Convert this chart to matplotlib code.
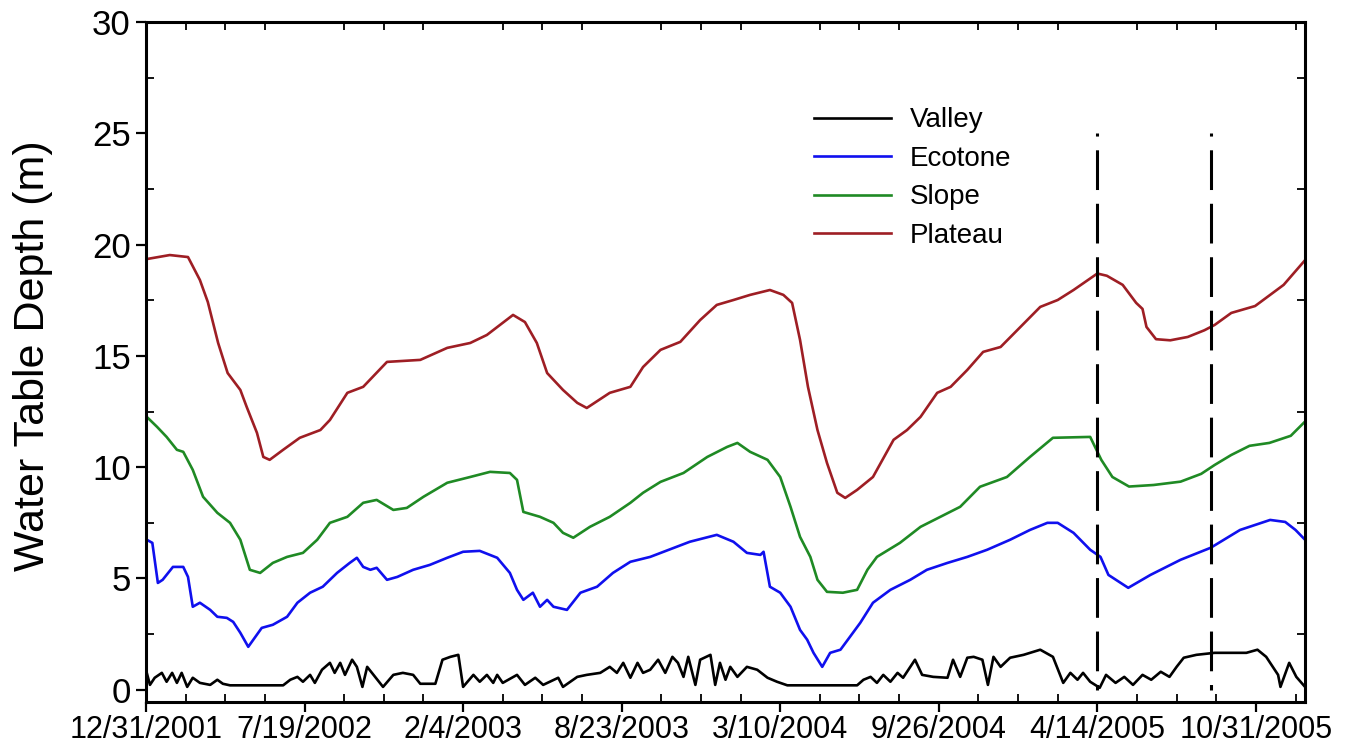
import datetime as dt
import numpy as np
import matplotlib
matplotlib.use("Agg")
import matplotlib.pyplot as plt
import matplotlib.dates as mdates
from matplotlib.ticker import FixedLocator, MultipleLocator

plt.rcParams['font.family'] = ['Liberation Sans', 'DejaVu Sans']

start = dt.date(2001, 12, 31)

# days since 12/31/2001 and water table depth (m)
plateau_day = [1, 30, 53, 68, 78, 91, 103, 119, 127, 140, 148, 156, 173, 194, 220, 232,
               254, 274, 304, 346, 380, 409, 430, 463, 478, 493, 506, 526, 544, 556, 585,
               611, 627, 649, 674, 699, 720, 741, 762, 787, 804, 815, 825, 835, 847, 859,
               872, 882, 897, 917, 943, 960, 977, 998, 1015, 1036, 1056, 1078, 1103, 1128,
               1150, 1170, 1200, 1212, 1232, 1249, 1257, 1262, 1274, 1292, 1314, 1335,
               1348, 1369, 1399, 1435, 1462]
plateau = [19.35, 19.53, 19.44, 18.41, 17.42, 15.58, 14.23, 13.47, 12.71, 11.54, 10.46,
           10.33, 10.78, 11.32, 11.67, 12.12, 13.34, 13.61, 14.73, 14.82, 15.36, 15.58,
           15.94, 16.84, 16.52, 15.58, 14.23, 13.47, 12.89, 12.66, 13.34, 13.61, 14.50,
           15.27, 15.63, 16.61, 17.29, 17.51, 17.74, 17.96, 17.74, 17.38, 15.72, 13.61,
           11.67, 10.19, 8.85, 8.62, 8.98, 9.56, 11.23, 11.67, 12.26, 13.34, 13.61, 14.37,
           15.18, 15.40, 16.30, 17.20, 17.51, 17.96, 18.70, 18.60, 18.19, 17.38, 17.11,
           16.30, 15.75, 15.70, 15.85, 16.15, 16.39, 16.93, 17.24, 18.19, 19.30]

slope_day = [1, 14, 26, 39, 47, 59, 72, 90, 106, 119, 131, 144, 160, 178, 198, 216, 232,
             254, 274, 291, 312, 329, 350, 380, 409, 434, 459, 468, 476, 497, 514, 526,
             539, 560, 585, 611, 627, 649, 678, 708, 733, 746, 762, 784, 800, 813, 825,
             838, 847, 859, 879, 897, 910, 922, 951, 977, 1002, 1027, 1052, 1086, 1115,
             1144, 1191, 1205, 1219, 1240, 1271, 1305, 1331, 1348, 1369, 1392, 1417,
             1444, 1462]
slope = [12.26, 11.81, 11.36, 10.78, 10.69, 9.88, 8.67, 7.95, 7.50, 6.74, 5.39, 5.25,
         5.70, 5.97, 6.15, 6.74, 7.50, 7.77, 8.40, 8.53, 8.08, 8.17, 8.67, 9.30, 9.56,
         9.79, 9.74, 9.43, 7.99, 7.77, 7.50, 7.05, 6.83, 7.32, 7.77, 8.40, 8.85, 9.34,
         9.74, 10.46, 10.91, 11.09, 10.69, 10.33, 9.56, 8.22, 6.87, 5.97, 4.94, 4.40,
         4.36, 4.49, 5.39, 5.97, 6.60, 7.32, 7.77, 8.22, 9.12, 9.56, 10.46, 11.32, 11.36,
         10.33, 9.56, 9.13, 9.20, 9.35, 9.70, 10.10, 10.55, 10.96, 11.09, 11.41, 12.05]

ecotone_day = [1, 8, 15, 21, 34, 47, 53, 59, 68, 81, 90, 102, 110, 119, 129, 138, 146,
               160, 178, 191, 207, 223, 241, 257, 266, 274, 283, 291, 304, 317, 337, 358,
               380, 400, 421, 443, 459, 468, 476, 488, 497, 506, 514, 531, 548, 569, 589,
               611, 636, 686, 720, 741, 758, 775, 779, 787, 800, 813, 825, 834, 842, 853,
               863, 876, 888, 901, 917, 939, 964, 985, 1011, 1036, 1061, 1090, 1115, 1137,
               1150, 1170, 1191, 1204, 1214, 1239, 1267, 1305, 1343, 1380, 1418, 1437,
               1450, 1462]
ecotone = [6.74, 6.60, 4.80, 4.94, 5.52, 5.52, 5.07, 3.73, 3.91, 3.59, 3.28, 3.23, 3.05,
           2.56, 1.93, 2.38, 2.78, 2.92, 3.28, 3.91, 4.36, 4.63, 5.25, 5.70, 5.93, 5.52,
           5.39, 5.48, 4.94, 5.07, 5.39, 5.61, 5.93, 6.20, 6.24, 5.93, 5.25, 4.49, 4.04,
           4.36, 3.73, 4.04, 3.73, 3.59, 4.36, 4.63, 5.25, 5.75, 5.97, 6.65, 6.96, 6.65,
           6.15, 6.06, 6.20, 4.63, 4.36, 3.73, 2.69, 2.25, 1.66, 1.03, 1.66, 1.80, 2.38,
           3.01, 3.91, 4.49, 4.94, 5.39, 5.70, 5.97, 6.29, 6.74, 7.18, 7.50, 7.50, 7.05,
           6.29, 5.97, 5.16, 4.58, 5.16, 5.84, 6.38, 7.18, 7.63, 7.54, 7.18, 6.74]

valley_day = [1, 5, 11, 20, 26, 33, 39, 45, 52, 59, 68, 81, 90, 97, 106, 173, 182, 191,
              198, 207, 213, 222, 232, 238, 245, 251, 260, 266, 273, 279, 289, 299, 312,
              324, 337, 346, 365, 374, 384, 394, 400, 413, 421, 430, 438, 443, 450, 468,
              478, 491, 501, 520, 526, 544, 556, 573, 585, 594, 602, 611, 620, 627, 636,
              646, 655, 664, 671, 678, 684, 693, 699, 712, 718, 724, 731, 737, 746, 758,
              771, 784, 796, 809, 897, 905, 914, 922, 930, 939, 948, 955, 970, 979, 993,
              1011, 1018, 1027, 1036, 1044, 1055, 1062, 1069, 1078, 1090, 1107, 1128,
              1144, 1157, 1166, 1175, 1182, 1191, 1203, 1211, 1223, 1234, 1245, 1257,
              1268, 1280, 1291, 1300, 1309, 1325, 1348, 1370, 1388, 1402, 1413, 1428,
              1431, 1442, 1451, 1462]
valley = [0.76, 0.22, 0.54, 0.76, 0.36, 0.76, 0.31, 0.76, 0.13, 0.54, 0.31, 0.22, 0.45,
          0.27, 0.20, 0.20, 0.45, 0.58, 0.36, 0.67, 0.31, 0.90, 1.21, 0.76, 1.21, 0.67,
          1.35, 1.03, 0.13, 1.03, 0.58, 0.13, 0.67, 0.76, 0.67, 0.27, 0.27, 1.35, 1.48,
          1.57, 0.13, 0.67, 0.36, 0.67, 0.31, 0.67, 0.31, 0.67, 0.22, 0.54, 0.22, 0.54,
          0.13, 0.58, 0.67, 0.76, 1.03, 0.76, 1.21, 0.54, 1.21, 0.76, 0.90, 1.35, 0.76,
          1.48, 1.21, 0.58, 1.48, 0.22, 1.35, 1.57, 0.22, 1.21, 0.45, 1.03, 0.58, 1.03,
          0.90, 0.54, 0.36, 0.20, 0.20, 0.45, 0.58, 0.31, 0.67, 0.36, 0.76, 0.54, 1.35,
          0.67, 0.58, 0.54, 1.35, 0.58, 1.44, 1.48, 1.35, 0.22, 1.48, 1.03, 1.44, 1.57,
          1.80, 1.48, 0.31, 0.76, 0.45, 0.76, 0.36, 0.09, 0.67, 0.31, 0.58, 0.22, 0.67,
          0.45, 0.81, 0.58, 1.03, 1.44, 1.57, 1.66, 1.66, 1.66, 1.80, 1.48, 0.67, 0.13,
          1.21, 0.58, 0.13]

# sampling dates marked with dashed lines
event_days = [1200, 1344]

tick_days = [0, 200, 400, 600, 800, 1000, 1200, 1400]
tick_labels = ['12/31/2001', '7/19/2002', '2/4/2003', '8/23/2003', '3/10/2004',
               '9/26/2004', '4/14/2005', '10/31/2005']
x_end_day = 1462


def to_dates(days):
    return [start + dt.timedelta(days=d) for d in days]


fig = plt.figure(figsize=(13.58, 7.53), dpi=100)
ax = fig.add_axes([0.1075, 0.0677, 0.8535, 0.9031])

ax.plot(to_dates(valley_day), valley, color='black', lw=1.9, label='Valley')
ax.plot(to_dates(ecotone_day), ecotone, color='#1010ee', lw=1.9, label='Ecotone')
ax.plot(to_dates(slope_day), slope, color='#1f8a24', lw=1.9, label='Slope')
ax.plot(to_dates(plateau_day), plateau, color='#9e1e24', lw=1.9, label='Plateau')

for d in event_days:
    ed = start + dt.timedelta(days=d)
    ax.plot([ed, ed], [25, 0], color='black', lw=2.2, linestyle=(12, (13, 4.5)))

ax.set_xlim(start, start + dt.timedelta(days=x_end_day))
ax.set_ylim(-0.55, 30)

t0 = mdates.date2num(start)
ax.xaxis.set_major_locator(FixedLocator([t0 + d for d in tick_days]))
ax.set_xticklabels(tick_labels)
ax.xaxis.set_minor_locator(FixedLocator(t0 + np.arange(0, x_end_day + 1, 50)))
ax.yaxis.set_major_locator(MultipleLocator(5))
ax.yaxis.set_minor_locator(MultipleLocator(2.5))

ax.tick_params(which='major', direction='out', length=7, width=1.6, labelsize=22,
               top=False, right=False, pad=2)
ax.tick_params(which='minor', direction='in', length=6, width=1.3,
               top=True, right=True)
ax.tick_params(axis='y', which='major', labelsize=25, pad=4)
for s in ax.spines.values():
    s.set_linewidth(2.2)

ax.set_ylabel('Water Table Depth (m)', fontsize=31)
ax.yaxis.set_label_coords(-0.08, 0.51)

ax.legend(loc='upper left', bbox_to_anchor=(0.567, 0.891), frameon=False, fontsize=20,
          handlelength=2.75, handletextpad=0.7, labelspacing=0.45, borderaxespad=0)

fig.savefig('out.png', dpi=100)
